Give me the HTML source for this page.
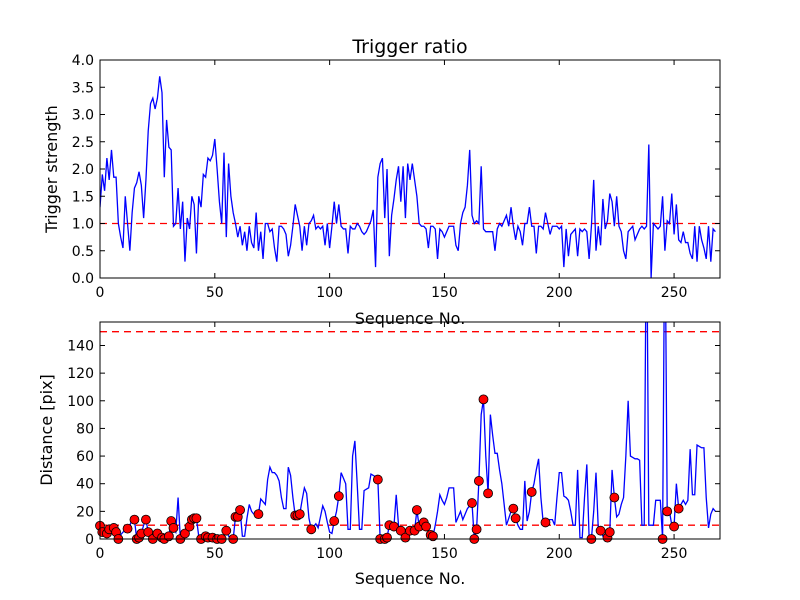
<!DOCTYPE html>
<html><head><meta charset="utf-8"><style>
body{margin:0;background:#fff}
svg{display:block;font-family:"DejaVu Sans","Liberation Sans",sans-serif}
</style></head><body>
<svg id="chart" width="800" height="600" viewBox="0 0 800 600" xmlns="http://www.w3.org/2000/svg">
<rect width="800" height="600" fill="#fff"/>
<defs>
<clipPath id="clipTop"><rect x="100" y="60" width="620" height="218"/></clipPath>
<clipPath id="clipBot"><rect x="100" y="322" width="620" height="217"/></clipPath>
</defs>
<g id="topPanel"></g><g id="botPanel"></g>
</svg>
<script>
const triggerValues=[1.3,1.9,1.6,2.2,1.8,2.35,1.85,1.85,1.0,0.75,0.55,1.5,1.0,0.5,1.2,1.65,1.75,1.95,1.7,1.1,1.8,2.7,3.2,3.3,3.1,3.3,3.7,3.4,1.85,2.9,2.4,2.35,0.95,1.0,1.65,0.9,1.4,0.3,1.1,0.9,1.5,1.35,0.45,1.5,1.3,1.9,1.85,2.2,2.15,2.25,2.55,2.0,1.4,1.0,2.3,0.75,2.1,1.5,1.2,1.0,0.75,0.95,0.6,0.85,0.5,0.95,0.65,0.55,1.2,0.5,0.85,0.35,1.0,1.0,0.85,0.9,0.55,0.3,0.95,0.95,0.9,0.8,0.4,0.6,0.95,1.35,1.15,0.95,0.5,0.95,0.6,1.0,1.05,1.15,0.9,0.95,0.9,0.95,0.6,1.0,0.55,0.95,1.4,1.0,1.35,0.95,0.9,0.9,0.45,0.95,0.9,0.9,1.0,0.95,0.85,0.8,0.85,0.95,1.05,1.25,0.2,1.85,2.1,2.2,1.1,2.0,0.4,1.15,1.45,1.8,2.05,1.4,2.05,1.1,2.1,1.8,2.1,1.8,1.5,1.0,0.95,0.95,0.9,0.55,0.95,0.95,0.9,0.35,0.9,0.85,0.75,0.85,0.95,0.95,0.95,0.6,0.5,1.0,1.2,1.3,1.7,2.35,1.15,1.0,1.05,1.0,2.05,0.9,0.85,0.85,0.85,0.85,0.5,0.9,1.0,0.95,1.05,1.15,0.95,1.3,0.95,0.7,0.95,0.85,0.6,1.0,1.0,1.3,0.95,0.95,0.45,0.95,0.95,0.9,1.2,1.0,0.8,0.95,0.95,0.95,0.9,0.95,0.2,0.9,0.4,0.8,0.85,0.9,0.4,0.9,0.85,0.9,0.85,0.35,0.95,1.8,0.5,0.95,0.6,1.45,0.9,1.05,1.55,1.4,0.95,1.5,0.95,0.85,0.5,0.35,0.85,0.9,0.95,0.7,0.8,0.9,0.95,0.9,0.95,2.45,0.0,1.0,0.95,0.9,0.95,1.5,0.5,1.05,1.0,1.55,0.8,1.35,0.7,0.65,0.85,0.65,0.65,0.45,0.35,0.95,0.3,0.95,0.7,0.55,0.35,0.95,0.3,0.9,0.85];
const distanceValues=[9.6,5,5,4,7,6,8,5,0,3,5,6,7.5,10,14,14,0,1,4,10,14,5,3,0,2,4,3,1,0,1,2,13,8,5,30,0,2,4,6,9,14,15,15,2,0,1,2,1,2,1,1,0,1,0,2,6,2,1,0,16,16,21,2,2,15,25,20,18,18,18,29,27,25,43,52,48,48,46,42,30,22,22,52,46,30,17,17,18,28,37,33,15,7,9,11,8,16,24,20,12,5,4,13,20,31,48,44,40,7,7,60,71,40,7,7,35,36,37,47,46,45,43,0,1,0,1,10,10,9,32,10,6,3,1,4,6,7,6,21,9,10,12,9,6,3,2,10,20,32,28,25,30,37,37,37,12,16,20,14,18,22,24,26,0,7,42,90,101,60,33,90,75,62,62,50,40,25,10,15,20,22,15,10,7,7,42,13,20,34,40,50,58,30,12,12,14,14,14,10,30,48,48,31,30,28,20,10,10,50,1,1,30,54,1,0,20,48,7,6,2,2,1,5,50,30,16,18,25,30,60,100,60,59,58,58,57,10,10,250,10,10,10,28,28,28,0,250,20,20,10,9,40,22,25,28,25,28,65,32,32,68,67,66,66,30,8,18,22,20];
const dotIndices=[0,1,3,4,6,7,8,12,15,16,17,18,20,21,23,25,27,28,30,31,32,35,37,39,40,41,42,44,46,47,49,51,53,55,58,59,60,61,69,85,86,87,92,102,104,121,122,124,125,126,128,131,133,135,137,138,139,141,142,144,145,162,163,164,165,167,169,180,181,188,194,214,218,221,222,224,245,247,250,252];
const xTicks=[0,50,100,150,200,250];
const topYTicks=[0,0.5,1,1.5,2,2.5,3,3.5,4];
const botYTicks=[0,20,40,60,80,100,120,140];
const triggerThreshold=[1.0];
const distanceThresholds=[10,150];

const NS='http://www.w3.org/2000/svg';
const X0=100,X1=720,XMAX=270;
const xs=v=>X0+v/XMAX*(X1-X0);
const topY=v=>278-v/4*218;
const botY=v=>539-v/157*217;
function mk(tag,attrs,parent){const e=document.createElementNS(NS,tag);for(const k in attrs)e.setAttribute(k,attrs[k]);parent.appendChild(e);return e;}

function axes(g,y0,y1,yfn,yticks,fmt,prefix){
  for(const t of xTicks){const x=xs(t);
    const a=mk('line',{x1:x,x2:x,y1:y1,y2:y1-5,stroke:'#000'},g);
    
    
    mk('line',{x1:x,x2:x,y1:y0,y2:y0+5,stroke:'#000'},g);
    const l=mk('text',{x:x,y:y1+19,'text-anchor':'middle','font-size':'14'},g);l.textContent=t;
    
    
  }
  for(const t of yticks){const y=yfn(t);
    const a=mk('line',{x1:X0,x2:X0+5,y1:y,y2:y,stroke:'#000'},g);
    
    
    mk('line',{x1:X1,x2:X1-5,y1:y,y2:y,stroke:'#000'},g);
    const l=mk('text',{x:X0-6,y:y+5,'text-anchor':'end','font-size':'14'},g);l.textContent=fmt(t);
    
    
  }
  const r=mk('rect',{x:X0,y:y0,width:X1-X0,height:y1-y0,fill:'none',stroke:'#000','stroke-width':1},g);
  
  
}

const topG=document.getElementById('topPanel');
for(const th of triggerThreshold){const y=topY(th);
  const d=mk('line',{x1:X0,x2:X1,y1:y,y2:y,stroke:'#f00','stroke-dasharray':'7,5','stroke-width':1.3,'clip-path':'url(#clipTop)'},topG);
  
  
}
const tl=mk('polyline',{points:triggerValues.map((v,i)=>xs(i)+','+topY(v)).join(' '),fill:'none',stroke:'#00f','stroke-width':1.3,'clip-path':'url(#clipTop)'},topG);


axes(topG,60,278,topY,topYTicks,t=>t.toFixed(1),'top');
let tt=mk('text',{x:410,y:53,'text-anchor':'middle','font-size':'19'},topG);tt.textContent='Trigger ratio';


let tx=mk('text',{x:410,y:324,'text-anchor':'middle','font-size':'16'},topG);tx.textContent='Sequence No.';


let ty=mk('text',{x:0,y:0,'text-anchor':'middle','font-size':'16',transform:'translate(57,169) rotate(-90)'},topG);ty.textContent='Trigger strength';



const botG=document.getElementById('botPanel');
for(const th of distanceThresholds){const y=botY(th);
  const d=mk('line',{x1:X0,x2:X1,y1:y,y2:y,stroke:'#f00','stroke-dasharray':'7,5','stroke-width':1.3,'clip-path':'url(#clipBot)'},botG);
  
  
}
const bl=mk('polyline',{points:distanceValues.map((v,i)=>xs(i)+','+botY(v)).join(' '),fill:'none',stroke:'#00f','stroke-width':1.3,'clip-path':'url(#clipBot)'},botG);


for(const i of dotIndices){
  const c=mk('circle',{cx:xs(i),cy:botY(distanceValues[i]),r:4.5,fill:'#f00',stroke:'#000','stroke-width':0.8},botG);
  
  
}
axes(botG,322,539,botY,botYTicks,t=>String(t),'bottom');
let bx=mk('text',{x:410,y:584,'text-anchor':'middle','font-size':'16'},botG);bx.textContent='Sequence No.';


let by=mk('text',{x:0,y:0,'text-anchor':'middle','font-size':'16',transform:'translate(52,430) rotate(-90)'},botG);by.textContent='Distance [pix]';


</script>
</body></html>
